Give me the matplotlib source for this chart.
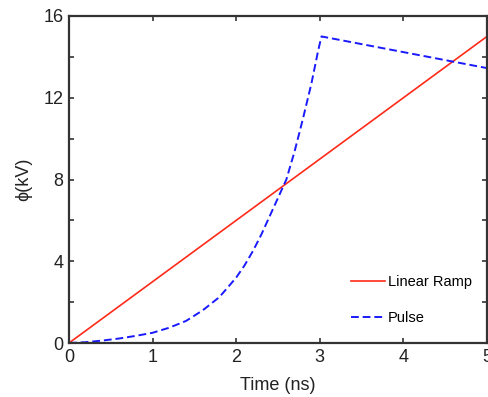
#coding:utf-8
# phi(t): linear ramp vs pulse
import numpy as np
import matplotlib
matplotlib.use('Agg')
import matplotlib.pyplot as plt

plt.rcParams['font.family'] = ['Liberation Sans', 'DejaVu Sans']

# linear ramp, 0 -> 15 kV over 5 ns
ramp_t = [0.0, 5.0]
ramp_v = [0.0, 15.0]

# pulse
pulse_t = [0.0, 0.2, 0.4, 0.6, 0.8, 1.0, 1.2, 1.4, 1.6, 1.8, 2.0, 2.1, 2.2,
           2.3, 2.4, 2.5, 2.6, 2.7, 2.8, 2.9, 2.98, 3.02, 5.0]
pulse_v = [0.0, 0.04, 0.12, 0.22, 0.35, 0.5, 0.75, 1.08, 1.6, 2.25, 3.2, 3.8,
           4.5, 5.3, 6.2, 7.1, 8.0, 9.4, 11.0, 12.7, 14.3, 15.0, 13.45]

xticks = [0, 1, 2, 3, 4, 5]
yticks = [0, 4, 8, 12, 16]

fig = plt.figure(figsize=(4.88, 3.97), dpi=100)
ax = fig.add_axes([69/488, 1-343/397, (487-69)/488, (343-16)/397])

ax.plot(ramp_t, ramp_v, color='#ff2a1a', lw=1.2, label='Linear Ramp')
ax.plot(pulse_t, pulse_v, color='#1a1aff', lw=1.4, ls=(0, (4, 2)), label='Pulse')

ax.set_xlim(0, 5)
ax.set_ylim(0, 16)
ax.set_xticks(xticks)
ax.set_yticks(yticks)
ax.set_yticks([2, 6, 10, 14], minor=True)
ax.tick_params(which='both', direction='in', top=True, right=True,
               length=3.5, width=1.2, color='#333333', labelsize=13,
               pad=4, labelcolor='#222222')
for s in ax.spines.values():
    s.set_linewidth(1.6)
    s.set_color('#333333')

ax.set_xlabel('Time (ns)', fontsize=13, color='#222222', labelpad=8)
ax.set_ylabel('ϕ(kV)', fontsize=13, color='#222222', labelpad=8)

ax.legend(loc='upper left', bbox_to_anchor=(0.675, 0.207), frameon=False,
          fontsize=10.5, handlelength=2.3, handletextpad=0.2,
          labelspacing=1.5, borderpad=0, borderaxespad=0)

fig.savefig('out.png', dpi=100)
